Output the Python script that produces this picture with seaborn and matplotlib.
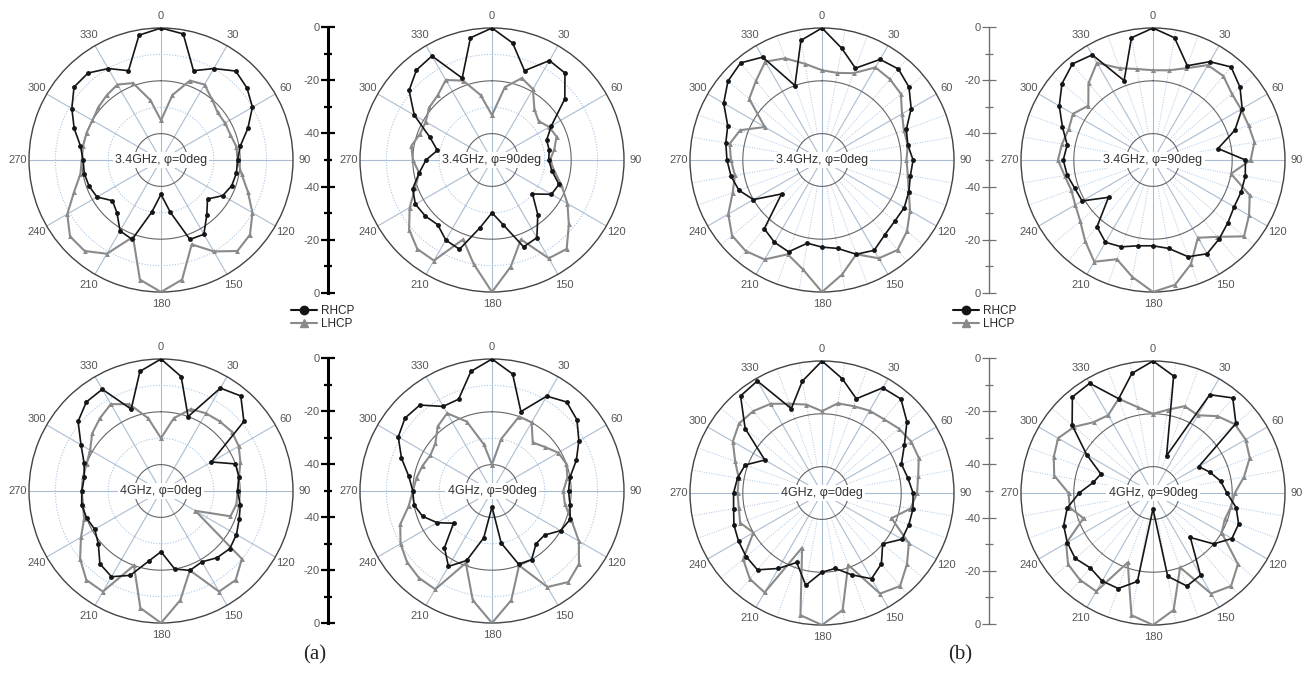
import numpy as np
import pandas as pd
import seaborn as sns
import matplotlib.pyplot as plt
from matplotlib.lines import Line2D

sns.set_style("white")
plt.rcParams['font.family'] = ['Liberation Sans', 'DejaVu Sans']

angles = np.arange(0, 360, 10)

# (a) measured patterns, dB
a_34_phi0_rhcp = [0, -1.5, -14, -10, -6, -7.5, -10, -15, -19.5, -21, -21, -21.5, -23, -27, -23, -17.5, -18, -30,
                  -37, -30, -18, -19, -24, -26, -22, -21, -20.5, -20.5, -19, -15, -11, -7, -7, -10, -14, -2]
a_34_phi0_lhcp = [-35, -25, -18, -17, -20, -22, -22, -22, -21, -21, -19, -15, -10, -6, -5, -10, -16, -4,
                  0, -4, -19, -9, -5, -5, -9, -15, -19, -20, -20, -20, -20, -19, -18, -17, -19, -27]
a_34_phi90_rhcp = [0, -5, -14, -6.5, -7, -14, -24, -28, -28, -28.5, -27, -23, -24, -30, -23, -16, -15, -25,
                   -30, -24, -14, -15, -18, -17, -16.5, -18, -22, -25, -29, -25, -16, -9, -5.5, -4.5, -17, -3]
a_34_phi90_lhcp = [-33, -22, -17, -19, -25, -27, -25, -24, -26, -28, -26, -22, -17, -12, -6, -7, -18, -9,
                   0, -10, -18, -6, -6, -9, -14, -19, -22, -20, -19, -21, -21, -19, -18, -15, -18, -25]
a_4_phi0_rhcp = [0, -6, -20, -5, -3, -9, -28, -20, -20, -21, -19.5, -18.5, -17, -16, -17, -19, -18, -20,
                 -27, -23, -16, -12.5, -14, -19, -21, -20, -19.5, -20, -20.5, -19, -15, -9, -6, -5.5, -17, -4]
a_4_phi0_lhcp = [-30, -22, -17, -16, -15.5, -15, -16, -18, -20, -21, -21, -22, -35, -10, -6, -6, -18, -8,
                 0, -5, -20, -6, -6, -10, -15, -19, -20, -20, -20, -20, -19, -16, -14, -12, -15, -22]
a_4_phi90_rhcp = [0, -5, -18, -8.5, -6, -8, -12, -16, -20, -21, -20, -18.5, -20, -24, -24, -20, -20.5, -30,
                  -44, -32, -22, -17, -22, -31, -26, -22, -20, -20, -18, -13.5, -9, -7, -7.5, -13, -13, -4]
a_4_phi90_lhcp = [-40, -30, -20, -20, -26, -24, -21, -20, -21, -23, -22, -18, -12, -7, -5, -8, -20, -8,
                  0, -8, -21, -7, -7, -8, -10, -13, -18, -20, -21, -22, -23, -22, -18, -16, -22, -32]

# (b) measured patterns, dB
b_34_phi0_rhcp = [0, -7, -13, -6, -5, -7, -11, -16, -17, -15.5, -16, -15, -14, -14, -13, -10.5, -12, -16,
                  -17, -18, -13, -14, -16, -30, -20, -16.5, -15, -14, -13, -12, -7, -3.5, -2, -5, -20, -4]
b_34_phi0_lhcp = [-16, -16.5, -15, -9.5, -10, -11, -15, -17, -17, -18, -17, -15, -11.5, -8, -5.5, -7, -12, -6,
                  0, -8, -12, -6.5, -5, -5.5, -9, -14, -16.5, -15.5, -14.5, -17, -25, -14, -11, -7, -9, -13]
b_34_phi90_rhcp = [0, -3, -12, -7, -4, -7, -11, -17, -25, -15, -14.5, -14.5, -14.5, -13, -11, -9, -11, -16,
                   -17.5, -17, -15, -14, -17, -28, -19, -18.5, -17, -16, -17, -13.5, -9, -5, -2.5, -4, -18, -3]
b_34_phi90_lhcp = [-16, -15.5, -13, -8.5, -8.5, -11, -11.5, -11.5, -11, -13, -20, -11, -8, -5, -12, -16, -8, -2,
                   0, -5, -10, -5.5, -10, -14, -16, -17, -16, -14, -15, -16, -15, -18, -12, -7.5, -13, -15]
b_4_phi0_rhcp = [0, -6, -12, -4, -3.5, -8, -14, -18, -17, -15.5, -15, -15, -15, -20, -15, -12.5, -17, -21,
                 -20, -14.5, -22, -17, -12, -12.5, -13.5, -14.5, -16, -16.5, -17.5, -19, -25, -12, -2, -1, -16, -7]
b_4_phi0_lhcp = [-19, -15.5, -15, -14, -13.5, -12, -11, -11, -13, -14, -16, -22, -12, -8, -4, -6, -21, -5,
                 0, -3, -28, -6.5, -7.5, -11, -20, -17, -18, -18, -18, -15, -11, -9, -9.5, -11, -14, -16]
b_4_phi90_rhcp = [0, -5, -35, -7, -3, -9, -30, -27, -24, -22, -18, -15.5, -15.5, -20, -28, -14, -12.5, -18,
                  -44, -16, -11.5, -11.5, -13, -11.5, -12.5, -14, -17, -22, -27, -29, -21, -10, -2.5, -2, -12, -4]
b_4_phi90_lhcp = [-20, -18, -15, -16, -12, -9.5, -9.5, -11, -15, -19, -20, -21, -20, -8, -4, -6, -20, -5,
                  0, -3, -22, -7, -7, -8, -12, -22, -18, -18, -12, -10, -8.5, -11, -15, -16, -12, -17]

titles = ["3.4GHz, φ=0deg", "3.4GHz, φ=90deg", "4GHz, φ=0deg", "4GHz, φ=90deg"]
angle_labels = [str(d) for d in range(0, 360, 30)]
scale_labels = ['0', '-20', '-40', '-40', '-20', '0']
series_names = ['RHCP', 'LHCP']

W, H = 1304, 675
R = 132
fig = plt.figure(figsize=(W / 100, H / 100), dpi=100)

# (panel style, title, rhcp, lhcp, centre x, centre y) in pixels
panels = [
    ('a', titles[0], a_34_phi0_rhcp, a_34_phi0_lhcp, 161, 160),
    ('a', titles[1], a_34_phi90_rhcp, a_34_phi90_lhcp, 492, 160),
    ('a', titles[2], a_4_phi0_rhcp, a_4_phi0_lhcp, 161, 491),
    ('a', titles[3], a_4_phi90_rhcp, a_4_phi90_lhcp, 492, 491),
    ('b', titles[0], b_34_phi0_rhcp, b_34_phi0_lhcp, 822, 160),
    ('b', titles[1], b_34_phi90_rhcp, b_34_phi90_lhcp, 1153, 160),
    ('b', titles[2], b_4_phi0_rhcp, b_4_phi0_lhcp, 822, 493),
    ('b', titles[3], b_4_phi90_rhcp, b_4_phi90_lhcp, 1153, 493),
]

full = np.linspace(0, 2 * np.pi, 361)
spoke_col = '#a9bdd2'
dot_col = '#a8c6e4'

for style, title, rhcp, lhcp, cx, cy in panels:
    ax = fig.add_axes([(cx - R) / W, (H - cy - R) / H, 2 * R / W, 2 * R / H], projection='polar')
    ax.set_theta_zero_location('N')
    ax.set_theta_direction(-1)
    ax.grid(False)
    ax.set_yticks([])

    # grid: spokes and rings
    if style == 'a':
        for d in range(0, 360, 30):
            t = np.deg2rad(d)
            ax.plot([t, t], [-50, 0], color=spoke_col, lw=0.8, zorder=1)
        for rr in (-10, -30):
            ax.plot(full, np.full_like(full, rr), color=dot_col, lw=0.8, ls=(0, (1, 1.5)), zorder=1)
    else:
        for d in range(0, 360, 10):
            t = np.deg2rad(d)
            if d % 30 == 0:
                ax.plot([t, t], [-50, 0], color=spoke_col, lw=0.8, zorder=1)
            else:
                ax.plot([t, t], [-40, 0], color=dot_col, lw=0.7, ls=(0, (1, 1.5)), zorder=1)
    for rr in (-20, -40):
        ax.plot(full, np.full_like(full, rr), color='#666666', lw=0.8, zorder=1)

    # closed curves
    theta = np.deg2rad(np.append(angles, 360))
    df = pd.DataFrame({
        'theta': np.concatenate([theta, theta]),
        'gain': np.concatenate([np.append(rhcp, rhcp[0]), np.append(lhcp, lhcp[0])]),
        'pol': [series_names[0]] * len(theta) + [series_names[1]] * len(theta),
    })
    sns.lineplot(data=df[df.pol == 'LHCP'], x='theta', y='gain', ax=ax, sort=False, estimator=None,
                 color='#8a8a8a', lw=1.5, marker='^', markersize=3.5, markeredgewidth=0, zorder=3)
    sns.lineplot(data=df[df.pol == 'RHCP'], x='theta', y='gain', ax=ax, sort=False, estimator=None,
                 color='#151515', lw=1.2, marker='o', markersize=3.5, markeredgewidth=0, zorder=4)

    ax.set_ylim(-50, 0)
    ax.set_xlabel('')
    ax.set_ylabel('')
    ax.set_xticks(np.deg2rad(np.arange(0, 360, 30)))
    ax.set_xticklabels(angle_labels, fontsize=8, color='#555555')
    ax.tick_params(axis='x', pad=-2)
    ax.spines['polar'].set_color('#444444')
    ax.spines['polar'].set_linewidth(1.0)
    ax.text(0.5, 0.5, title, transform=ax.transAxes, ha='center', va='center', fontsize=9, color='#333333',
            zorder=6, bbox=dict(facecolor='white', edgecolor='none', pad=1.5))


def scale_bar(x, y_top, y_bot, color, lw, tw):
    sax = fig.add_axes([x / W, (H - y_bot) / H, 0.0005, (y_bot - y_top) / H])
    sax.set_ylim(0, 100)
    sax.set_xticks([])
    for s in ('top', 'right', 'bottom'):
        sax.spines[s].set_visible(False)
    sax.spines['left'].set_color(color)
    sax.spines['left'].set_linewidth(lw)
    sax.set_yticks([0, 20, 40, 60, 80, 100])
    sax.set_yticklabels(scale_labels)
    sax.set_yticks([10, 30, 50, 70, 90], minor=True)
    sax.tick_params(axis='y', which='both', left=True, right=False)
    sax.tick_params(axis='y', which='major', direction='inout', length=10, width=tw, color=color,
                    labelsize=8, labelcolor='#555555', pad=1)
    sax.tick_params(axis='y', which='minor', direction='inout', length=6, width=tw, color=color)
    sax.patch.set_alpha(0)


scale_bar(328, 27, 293, 'black', 2.2, 1.6)
scale_bar(328, 358, 623, 'black', 2.2, 1.6)
scale_bar(989, 27, 293, '#707070', 1.0, 0.9)
scale_bar(989, 358, 624, '#707070', 1.0, 0.9)

handles = [
    Line2D([], [], color='#151515', lw=1.5, marker='o', markersize=6, label=series_names[0]),
    Line2D([], [], color='#8a8a8a', lw=1.5, marker='^', markersize=6, label=series_names[1]),
]
for lx in (291, 953):
    fig.legend(handles=handles, loc='upper left', bbox_to_anchor=(lx / W, 1 - 305 / H), frameon=False,
               fontsize=8.5, handlelength=2.2, handletextpad=0.3, labelspacing=0.1, borderpad=0,
               borderaxespad=0)

fig.text(315 / W, 1 - 655 / H, '(a)', ha='center', va='center', fontsize=15, family='Liberation Serif')
fig.text(960 / W, 1 - 655 / H, '(b)', ha='center', va='center', fontsize=15, family='Liberation Serif')

fig.savefig('out.png', dpi=100, facecolor='white')
